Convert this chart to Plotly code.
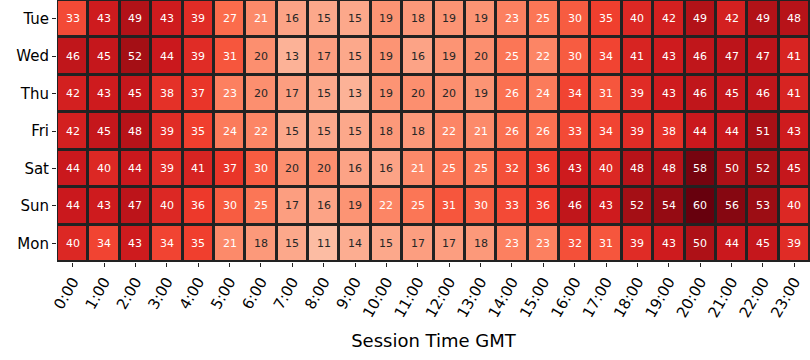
import plotly.graph_objects as go

days = ["Tue", "Wed", "Thu", "Fri", "Sat", "Sun", "Mon"]
hours = [f"{h}:00" for h in range(24)]

tue = [33, 43, 49, 43, 39, 27, 21, 16, 15, 15, 19, 18, 19, 19, 23, 25, 30, 35, 40, 42, 49, 42, 49, 48]
wed = [46, 45, 52, 44, 39, 31, 20, 13, 17, 15, 19, 16, 19, 20, 25, 22, 30, 34, 41, 43, 46, 47, 47, 41]
thu = [42, 43, 45, 38, 37, 23, 20, 17, 15, 13, 19, 20, 20, 19, 26, 24, 34, 31, 39, 43, 46, 45, 46, 41]
fri = [42, 45, 48, 39, 35, 24, 22, 15, 15, 15, 18, 18, 22, 21, 26, 26, 33, 34, 39, 38, 44, 44, 51, 43]
sat = [44, 40, 44, 39, 41, 37, 30, 20, 20, 16, 16, 21, 25, 25, 32, 36, 43, 40, 48, 48, 58, 50, 52, 45]
sun = [44, 43, 47, 40, 36, 30, 25, 17, 16, 19, 22, 25, 31, 30, 33, 36, 46, 43, 52, 54, 60, 56, 53, 40]
mon = [40, 34, 43, 34, 35, 21, 18, 15, 11, 14, 15, 17, 17, 18, 23, 23, 32, 31, 39, 43, 50, 44, 45, 39]

z = [tue, wed, thu, fri, sat, sun, mon]

reds = [(255, 245, 240), (254, 224, 210), (252, 187, 161), (252, 146, 114), (251, 106, 74),
        (239, 59, 44), (203, 24, 29), (165, 15, 21), (103, 0, 13)]
zmin, zmax = -5, 60
colorscale = [[i / (len(reds) - 1), "rgb(%d,%d,%d)" % c] for i, c in enumerate(reds)]


def cmap(v):
    f = min(max((v - zmin) / (zmax - zmin), 0), 1) * (len(reds) - 1)
    i = min(int(f), len(reds) - 2)
    t = f - i
    return [reds[i][k] + (reds[i + 1][k] - reds[i][k]) * t for k in range(3)]


def lum(rgb):
    out = []
    for c in rgb:
        c = c / 255
        out.append(c / 12.92 if c <= 0.03928 else ((c + 0.055) / 1.055) ** 2.4)
    return 0.2126 * out[0] + 0.7152 * out[1] + 0.0722 * out[2]


fig = go.Figure(go.Heatmap(
    z=z, x=hours, y=days, colorscale=colorscale, zmin=zmin, zmax=zmax,
    showscale=False, xgap=3, ygap=3, hoverinfo="skip",
))

for r, d in enumerate(days):
    for c, h in enumerate(hours):
        v = z[r][c]
        col = "#262626" if lum(cmap(v)) > 0.408 else "white"
        fig.add_annotation(x=h, y=d, text=str(v), showarrow=False,
                           font=dict(family="DejaVu Sans", size=11, color=col))

fig.update_layout(
    width=810, height=360,
    margin=dict(l=57, r=0, t=0, b=98),
    paper_bgcolor="white", plot_bgcolor="#222222",
    font=dict(family="DejaVu Sans", color="black"),
    xaxis=dict(tickangle=-60, ticks="outside", ticklen=4, tickcolor="#222",
               tickfont=dict(size=15), showgrid=False, zeroline=False,
               title=dict(text="Session Time GMT", font=dict(size=18), standoff=14)),
    yaxis=dict(autorange="reversed", ticks="outside", ticklen=4, tickcolor="#222",
               tickfont=dict(size=15), showgrid=False, zeroline=False),
)

fig.write_html("out.html", config={"displayModeBar": False},
               post_script="document.body.style.margin='0';")
